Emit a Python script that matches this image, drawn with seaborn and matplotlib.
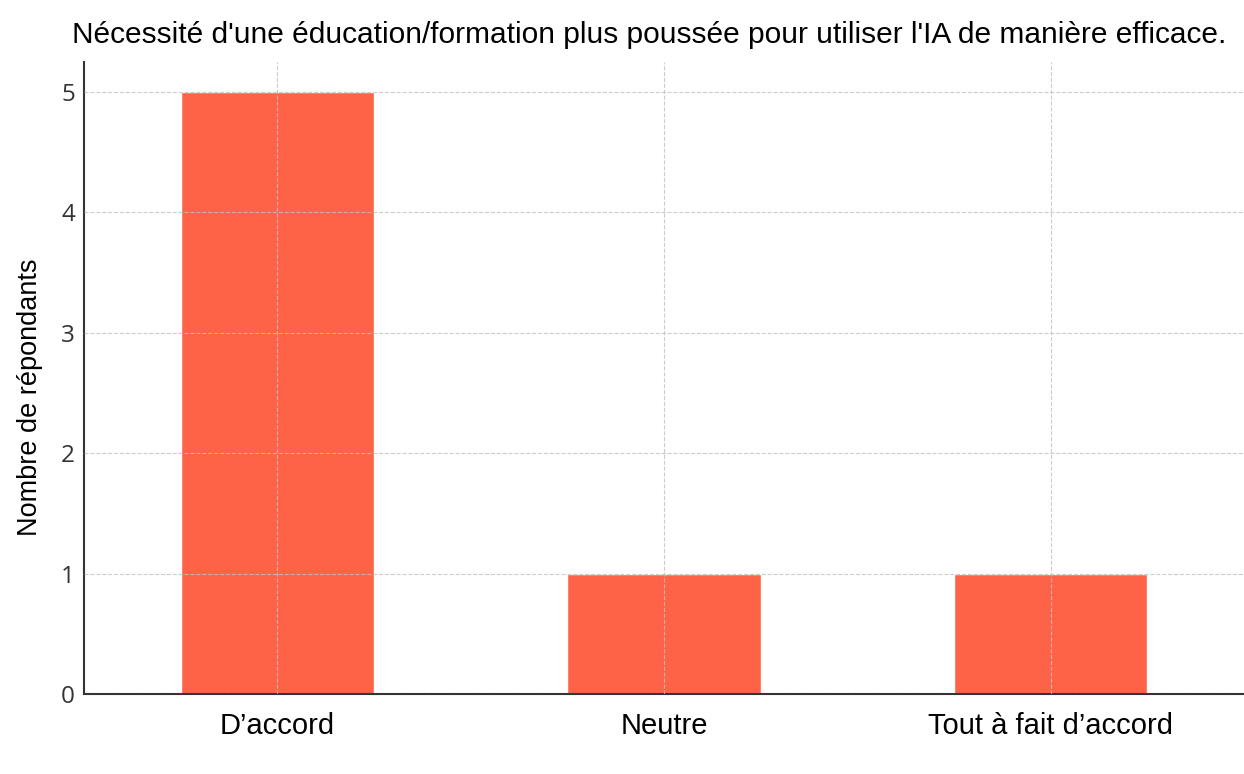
import matplotlib.pyplot as plt
import pandas as pd
import seaborn as sns

categories = ["D\u2019accord", "Neutre", "Tout \u00e0 fait d\u2019accord"]
counts = [5, 1, 1]
title = "N\u00e9cessit\u00e9 d'une \u00e9ducation/formation plus pouss\u00e9e pour utiliser l'IA de mani\u00e8re efficace."
ylabel = "Nombre de r\u00e9pondants"

sns.set_style("white")
plt.rcParams["font.family"] = ["Liberation Sans", "DejaVu Sans"]

df = pd.DataFrame({"reponse": categories, "n": counts})

fig = plt.figure(figsize=(12.44, 7.74), dpi=100)
ax = fig.add_axes([0.0675, 0.1034, 0.9325, 0.8166])
sns.barplot(data=df, x="reponse", y="n", color="#FF6347", saturation=1, width=0.5, ax=ax)

ax.set_xlim(-0.5, 2.5)
ax.set_ylim(0, 5.25)
ax.set_yticks(range(6))
ax.grid(True, linestyle="--", color="#c0c0c0", linewidth=0.8, alpha=0.8)
ax.set_axisbelow(False)
for s in ["top", "right"]:
    ax.spines[s].set_visible(False)
for s in ["left", "bottom"]:
    ax.spines[s].set_color("#333333")
    ax.spines[s].set_linewidth(1.5)

ax.tick_params(axis="x", labelsize=21, length=5, width=1.2, color="#333333",
               labelcolor="black", direction="in", pad=13)
ax.tick_params(axis="y", labelsize=17.5, length=5, width=1.2, color="#333333",
               labelcolor="#333333", direction="in", pad=6.5)
for lab in ax.get_yticklabels():
    lab.set_family("Open Sans")

ax.set_xlabel("")
ax.set_ylabel(ylabel, fontsize=19.5, color="black")
ax.yaxis.set_label_coords(-0.035, 0.47)
fig.text(0.5217, 0.955, title, fontsize=21.5, ha="center", va="center", color="black")

fig.savefig("out.png", dpi=100)
